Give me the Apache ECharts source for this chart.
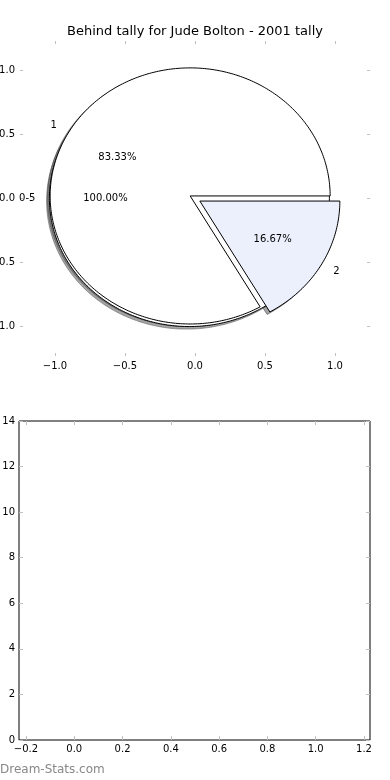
<!DOCTYPE html>
<html><head><meta charset="utf-8">
<script src="https://cdn.jsdelivr.net/npm/echarts@6/dist/echarts.min.js"></script>
<style>html,body{margin:0;padding:0;background:#fff}#c{width:390px;height:780px}</style>
</head><body><div id="c"></div>
<script>
const titleText = 'Behind tally for Jude Bolton - 2001 tally';
const watermarkText = 'Dream-Stats.com';
const outerLabels = ['0-5'];
const outerValues = [1];
const innerLabels = ['1', '2'];
const innerValues = [5, 1];
const outerColors = ['#ffffff'];
const innerColors = ['#ffffff', '#ebf0fc'];
const pieTicks = [-1, -0.5, 0, 0.5, 1];
const lowerXTicks = [-0.2, 0, 0.2, 0.4, 0.6, 0.8, 1.0, 1.2];
const lowerYTicks = [0, 2, 4, 6, 8, 10, 12, 14];

const EXPLODE = 0.04;
const FONT = '10px "DejaVu Sans"';
const TICKC = '#c0c0c0';

function buildWedges(values, labels, colors) {
  const total = values.reduce((a, b) => a + b, 0);
  let t = 0;
  return values.map((v, i) => {
    const f = v / total;
    const t1 = t * 360, t2 = (t + f) * 360; t += f;
    const mid = (t1 + t2) / 2 * Math.PI / 180;
    return { t1, t2, mid, cx: EXPLODE * Math.cos(mid), cy: EXPLODE * Math.sin(mid),
      label: labels[i], pct: (f * 100).toFixed(2) + '%', color: colors[i] };
  });
}
const wedges = buildWedges(outerValues, outerLabels, outerColors)
  .concat(buildWedges(innerValues, innerLabels, innerColors));

function wedgePts(api, w, ox, oy) {
  const pts = [];
  const full = Math.abs(w.t2 - w.t1 - 360) < 1e-9;
  if (!full) pts.push(api.coord([w.cx + ox, w.cy + oy]));
  const n = Math.max(8, Math.ceil(w.t2 - w.t1));
  for (let k = 0; k <= n; k++) {
    const a = (w.t1 + (w.t2 - w.t1) * k / n) * Math.PI / 180;
    pts.push(api.coord([w.cx + ox + Math.cos(a), w.cy + oy + Math.sin(a)]));
  }
  return pts;
}
function shadowColor(hex) {
  const r = parseInt(hex.slice(1, 3), 16), g = parseInt(hex.slice(3, 5), 16), b = parseInt(hex.slice(5, 7), 16);
  return 'rgba(' + Math.round(r * 0.3) + ',' + Math.round(g * 0.3) + ',' + Math.round(b * 0.3) + ',0.5)';
}
const fmt = v => (v < 0 ? '\u2212' : '') + Math.abs(v).toFixed(1);
const idx = wedges.map((w, i) => [i]);

function axisCommon(extra) {
  return Object.assign({ type: 'value', splitLine: { show: false },
    axisLine: { show: false, onZero: false } }, extra);
}
const tick = (len, vals) => Object.assign({ inside: true, length: len, lineStyle: { color: TICKC, width: 1 } },
  vals ? { customValues: vals } : {});
const lab = (vals, m) => Object.assign({ formatter: fmt, color: '#000', fontSize: 10, fontFamily: 'DejaVu Sans', margin: m },
  vals ? { customValues: vals } : {});

const option = {
  animation: false,
  backgroundColor: '#fff',
  title: { text: titleText, left: 'center', top: 20,
    textStyle: { fontFamily: 'DejaVu Sans', fontSize: 13, fontWeight: 'normal', color: '#000' } },
  graphic: [{ type: 'text', left: 0, top: 764,
    style: { text: watermarkText, fill: '#888888', font: '12px "DejaVu Sans"' } }],
  grid: [
    { left: 20, width: 350, top: 41, height: 315, outerBoundsMode: 'none', containLabel: false },
    { left: 19, width: 351, top: 421, height: 319, outerBoundsMode: 'none', containLabel: false,
      show: true, borderColor: '#000', borderWidth: 1, backgroundColor: 'transparent' }
  ],
  xAxis: [
    axisCommon({ gridIndex: 0, min: -1.25, max: 1.25, position: 'bottom', axisTick: tick(3, pieTicks), axisLabel: lab(pieTicks, 5) }),
    axisCommon({ gridIndex: 0, min: -1.25, max: 1.25, position: 'top', axisTick: tick(3, pieTicks), axisLabel: { show: false } }),
    axisCommon({ gridIndex: 1, min: -0.229, max: 1.225, position: 'bottom', axisTick: tick(4, lowerXTicks), axisLabel: lab(lowerXTicks, 4) }),
    axisCommon({ gridIndex: 1, min: -0.229, max: 1.225, position: 'top', axisTick: tick(4, lowerXTicks), axisLabel: { show: false } })
  ],
  yAxis: [
    axisCommon({ gridIndex: 0, min: -1.23, max: 1.23, position: 'left', axisTick: tick(3, pieTicks), axisLabel: lab(pieTicks, 5) }),
    axisCommon({ gridIndex: 0, min: -1.23, max: 1.23, position: 'right', axisTick: tick(3, pieTicks), axisLabel: { show: false } }),
    axisCommon({ gridIndex: 1, min: 0, max: 14, interval: 2, position: 'left', axisTick: tick(4, lowerYTicks),
      axisLabel: Object.assign(lab(lowerYTicks, 4), { formatter: v => String(v) }) }),
    axisCommon({ gridIndex: 1, min: 0, max: 14, interval: 2, position: 'right', axisTick: tick(4, lowerYTicks), axisLabel: { show: false } })
  ],
  series: [
    { type: 'custom', xAxisIndex: 0, yAxisIndex: 0, z: 1, silent: true, data: idx,
      renderItem: (params, api) => {
        const w = wedges[api.value(0)];
        const c = shadowColor(w.color);
        return { type: 'polygon', shape: { points: wedgePts(api, w, -0.02, -0.02) },
          style: { fill: c, stroke: c, lineWidth: 1 } };
      } },
    { type: 'custom', xAxisIndex: 0, yAxisIndex: 0, z: 2, silent: true, data: idx,
      renderItem: (params, api) => {
        const w = wedges[api.value(0)];
        return { type: 'polygon', shape: { points: wedgePts(api, w, 0, 0) },
          style: { fill: w.color, stroke: '#000', lineWidth: 1 } };
      } },
    { type: 'custom', xAxisIndex: 0, yAxisIndex: 0, z: 3, silent: true, data: idx,
      renderItem: (params, api) => {
        const w = wedges[api.value(0)];
        const c = Math.cos(w.mid), s = Math.sin(w.mid);
        const lp = api.coord([w.cx + 1.1 * c, w.cy + 1.1 * s]);
        const pp = api.coord([w.cx + 0.6 * c, w.cy + 0.6 * s]);
        const ha = (w.cx + 1.1 * c) > 0 ? 'left' : 'right';
        return { type: 'group', children: [
          { type: 'text', style: { x: lp[0], y: lp[1], text: w.label, fill: '#000', font: FONT,
              align: ha, verticalAlign: 'middle' } },
          { type: 'text', style: { x: pp[0], y: pp[1], text: w.pct, fill: '#000', font: FONT,
              align: 'center', verticalAlign: 'middle' } }
        ] };
      } }
  ]
};
const chart = echarts.init(document.getElementById('c'), null, { renderer: 'canvas' });
chart.setOption(option);
</script>
</body></html>
